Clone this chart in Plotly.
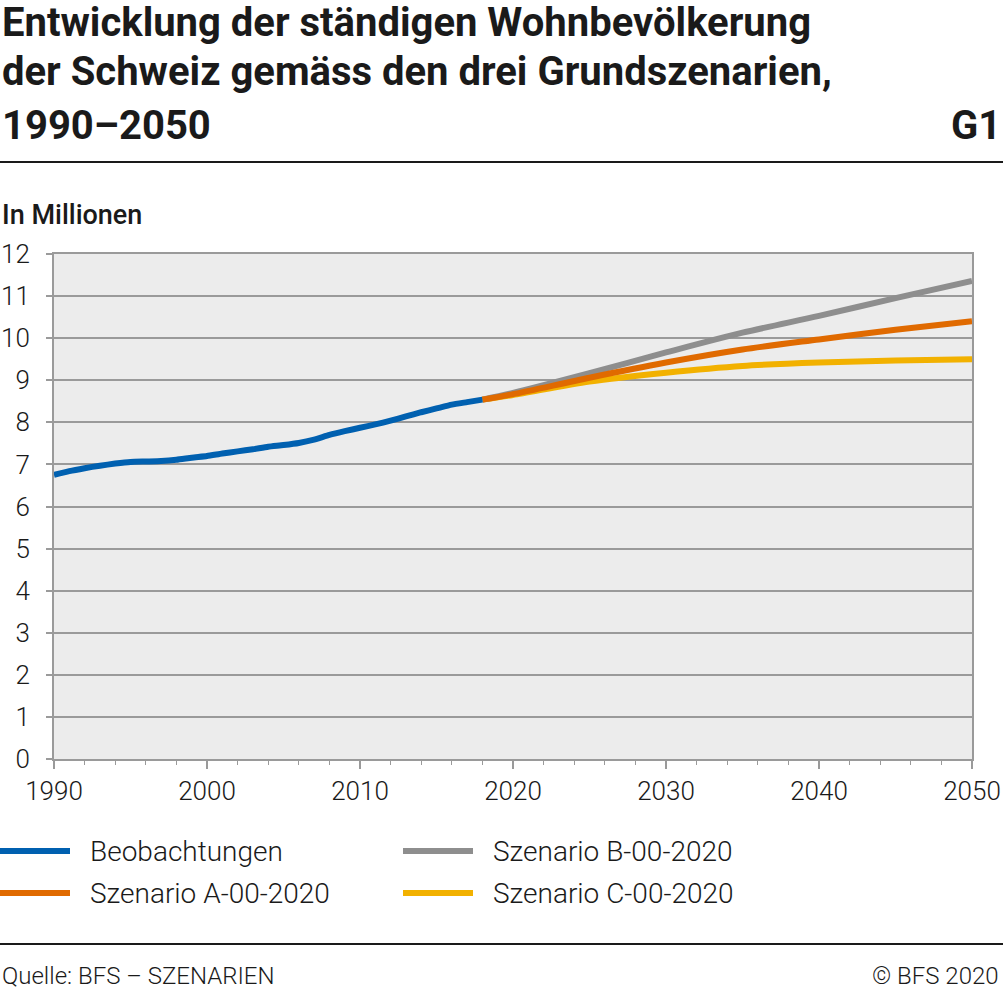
import plotly.graph_objects as go

# ---- data ----
obs_years = list(range(1990, 2019))
obs_values = [6.75, 6.84, 6.91, 6.97, 7.02, 7.06, 7.07, 7.08, 7.11, 7.16,
              7.20, 7.26, 7.31, 7.36, 7.42, 7.46, 7.51, 7.59, 7.70, 7.79,
              7.87, 7.95, 8.04, 8.14, 8.24, 8.33, 8.42, 8.48, 8.54]

scen_years = [2018, 2020, 2025, 2030, 2035, 2040, 2045, 2050]
scen_a = [8.54, 8.67, 9.06, 9.42, 9.73, 9.97, 10.20, 10.40]
scen_b = [8.54, 8.70, 9.17, 9.66, 10.13, 10.53, 10.95, 11.36]
scen_c = [8.54, 8.65, 8.97, 9.18, 9.34, 9.42, 9.47, 9.50]

colors = {"Beobachtungen": "#0060B0", "Szenario A-00-2020": "#E06A00",
          "Szenario B-00-2020": "#8E8E8E", "Szenario C-00-2020": "#F2B100"}

y_ticks = list(range(0, 13))
x_ticks = [1990, 2000, 2010, 2020, 2030, 2040, 2050]

title_lines = ["Entwicklung der ständigen Wohnbevölkerung",
               "der Schweiz gemäss den drei Grundszenarien,",
               "1990\u20132050"]

# ---- geometry (pixels) ----
W, H = 1003, 992
L, R, T, B = 54, 31, 254, 233
pw = W - L - R
ph = H - T - B


def px(X):
    return (X - L) / pw


def py(Y):
    return (H - B - Y) / ph


TXT = "#1a1a1a"
FONT = "Roboto"

fig = go.Figure()

for name, vals in [("Szenario C-00-2020", scen_c), ("Szenario B-00-2020", scen_b),
                   ("Szenario A-00-2020", scen_a)]:
    fig.add_trace(go.Scatter(x=scen_years, y=vals, mode="lines", name=name,
                             line=dict(color=colors[name], width=6, shape="spline", smoothing=0.8),
                             showlegend=False))
fig.add_trace(go.Scatter(x=obs_years, y=obs_values, mode="lines", name="Beobachtungen",
                         line=dict(color=colors["Beobachtungen"], width=6, shape="spline", smoothing=0.5),
                         showlegend=False))

fig.update_layout(
    width=W, height=H,
    margin=dict(l=L, r=R, t=T, b=B, autoexpand=False),
    paper_bgcolor="white",
    plot_bgcolor="#ECECEC",
    font=dict(family=FONT, color=TXT),
    showlegend=False,
)

fig.update_xaxes(
    range=[1990, 2050], tickvals=x_ticks, ticktext=[str(v) for v in x_ticks],
    showgrid=False, zeroline=False,
    showline=True, linecolor="#9A9A9A", linewidth=2, mirror=True,
    ticks="outside", ticklen=8, tickwidth=1.5, tickcolor="#9A9A9A",
    minor=dict(dtick=2, tick0=1990, ticks="outside", ticklen=4, tickwidth=1, tickcolor="#9A9A9A", showgrid=False),
    tickfont=dict(family=FONT, size=26, color=TXT, weight=300),
    ticklabelstandoff=0,
)
fig.update_yaxes(
    range=[0, 12], tickvals=y_ticks, ticktext=[str(v) for v in y_ticks],
    showgrid=True, gridcolor="#9A9A9A", gridwidth=2, zeroline=False,
    showline=True, linecolor="#9A9A9A", linewidth=2, mirror=True,
    ticks="outside", ticklen=6, tickwidth=2, tickcolor="#9A9A9A",
    tickfont=dict(family=FONT, size=26, color=TXT, weight=300),
    ticklabelstandoff=11,
)

ann = []
title_y = [22, 72, 125]
for line, Y in zip(title_lines, title_y):
    ann.append(dict(text=line, x=px(0), y=py(Y), xref="paper", yref="paper",
                    xanchor="left", yanchor="middle", showarrow=False,
                    font=dict(family=FONT, size=40, color=TXT, weight=700)))
ann.append(dict(text="G1", x=px(1003), y=py(125), xref="paper", yref="paper",
                xanchor="right", yanchor="middle", showarrow=False,
                font=dict(family=FONT, size=40, color=TXT, weight=700)))
ann.append(dict(text="In Millionen", x=px(0), y=py(215), xref="paper", yref="paper",
                xanchor="left", yanchor="middle", showarrow=False,
                font=dict(family=FONT, size=27, color=TXT, weight=500)))

legend_layout = [("Beobachtungen", 0, 851), ("Szenario B-00-2020", 403, 851),
                 ("Szenario A-00-2020", 0, 893), ("Szenario C-00-2020", 403, 893)]
shapes = []
for name, X0, Y in legend_layout:
    shapes.append(dict(type="line", xref="paper", yref="paper",
                       x0=px(X0), x1=px(X0 + 70), y0=py(Y), y1=py(Y),
                       line=dict(color=colors[name], width=6)))
    ann.append(dict(text=name, x=px(X0 + 88), y=py(Y), xref="paper", yref="paper",
                    xanchor="left", yanchor="middle", showarrow=False,
                    font=dict(family=FONT, size=28, color=TXT, weight=300)))

for Y in [162, 944]:
    shapes.append(dict(type="line", xref="paper", yref="paper",
                       x0=px(0), x1=px(1003), y0=py(Y), y1=py(Y),
                       line=dict(color="#1a1a1a", width=2)))

ann.append(dict(text="Quelle: BFS \u2013 SZENARIEN", x=px(0), y=py(976), xref="paper", yref="paper",
                xanchor="left", yanchor="middle", showarrow=False,
                font=dict(family=FONT, size=24, color=TXT, weight=300)))
ann.append(dict(text="\u00a9 BFS 2020", x=px(1001), y=py(976), xref="paper", yref="paper",
                xanchor="right", yanchor="middle", showarrow=False,
                font=dict(family=FONT, size=24, color=TXT, weight=300)))

fig.update_layout(annotations=ann, shapes=shapes)

fig.write_html("out.html", config={"displayModeBar": False},
               post_script="document.body.style.margin='0';document.body.style.overflow='hidden';")
